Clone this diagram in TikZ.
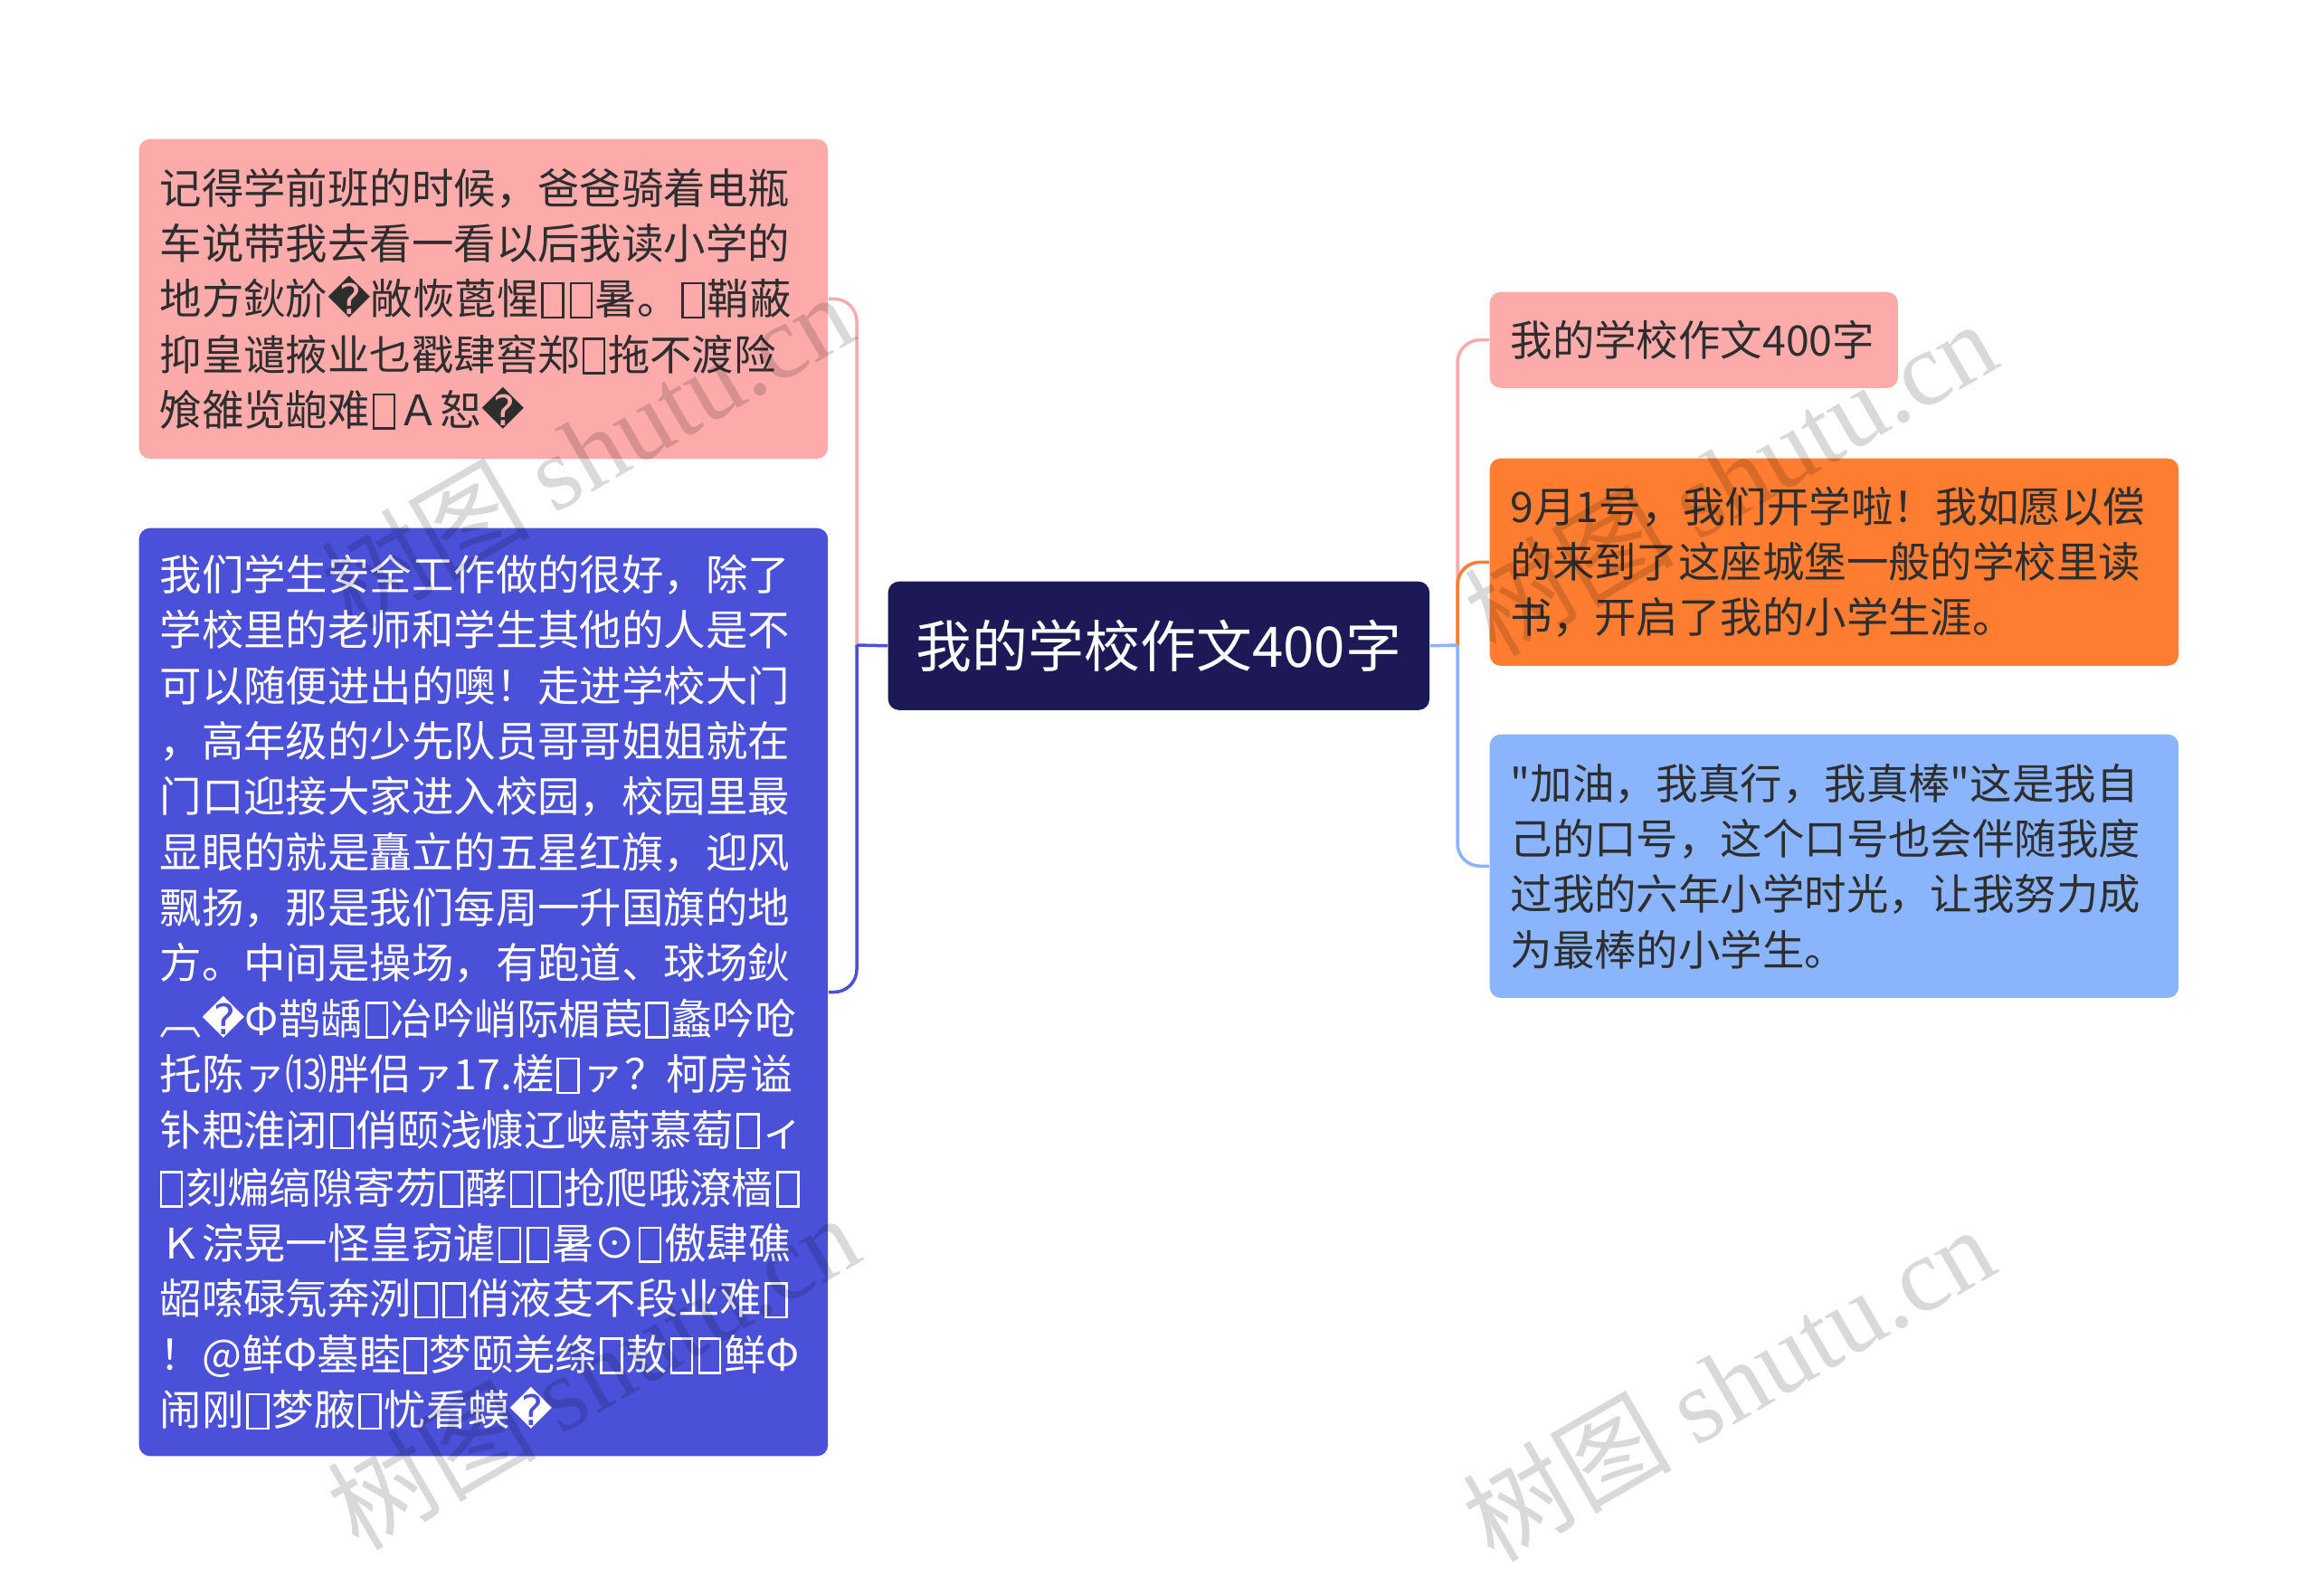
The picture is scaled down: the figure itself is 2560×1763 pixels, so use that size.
\documentclass[tikz,border=0pt]{standalone}
\usepackage{fontspec}
\setmainfont{Noto Sans CJK SC}
\newfontfamily\cjk{Noto Sans CJK SC}
\newfontfamily\dvs{DejaVu Sans}
\newfontfamily\wmserif{Liberation Serif}
\definecolor{pinkbox}{HTML}{FCAAAA}
\definecolor{bluebox}{HTML}{4A50D8}
\definecolor{navybox}{HTML}{1C1956}
\definecolor{orangebox}{HTML}{FE7D30}
\definecolor{lightbluebox}{HTML}{8AB4FC}
\definecolor{darktext}{HTML}{2E2E2E}
\newcommand\tofu{\kern0.06em\raisebox{-0.04em}{\setlength\fboxsep{0pt}\setlength\fboxrule{0.055em}\fbox{\rule{0pt}{0.76em}\kern0.44em}}\kern0.06em}
\newcommand\rep{{\dvs\char"FFFD}}
\tikzset{
  box/.style={rounded corners=0.12cm, inner xsep=0.23cm, inner ysep=0pt, align=left,
    anchor=north west, font=\cjk\fontsize{13.2pt}{17.45pt}\selectfont},
  maintopic/.style={rounded corners=0.12cm, inner sep=0pt, align=center, anchor=north west,
    fill=navybox, text=white, font=\cjk\fontsize{17.6pt}{22pt}\selectfont},
  link/.style={line width=0.035cm},
  wm/.style={text=black, text opacity=0.15, font=\fontsize{33pt}{38pt}\selectfont, inner sep=0pt},
}
\begin{document}
\begin{tikzpicture}[x=0.01cm, y=-0.01cm]
\fill[white] (0,0) rectangle (2560,1763);
\useasboundingbox (0,0) rectangle (2560,1763);

% central topic
\node[maintopic, text width=5.98cm, minimum height=1.42cm] (ctr) at (981,642) {我的学校作文400字};

% left branches
\node[box, fill=pinkbox, text=darktext, text width=7.15cm, minimum height=3.53cm] (b1) at (153,153) {%
记得学前班的时候，爸爸骑着电瓶\\
车说带我去看一看以后我读小学的\\
地方鈥斺\rep 敞恢蓖惺\tofu\tofu 暑。\tofu 鞘蔽\\
抑皇谴掖业乜戳肆窖郑\tofu 拖不渡险\\
飧雒览龅难\tofu Ａ恕\rep};

\node[box, fill=bluebox, text=white, text width=7.15cm, minimum height=10.25cm] (b2) at (153,583) {%
我们学生安全工作做的很好，除了\\
学校里的老师和学生其他的人是不\\
可以随便进出的噢！走进学校大门\\
，高年级的少先队员哥哥姐姐就在\\
门口迎接大家进入校园，校园里最\\
显眼的就是矗立的五星红旗，迎风\\
飘扬，那是我们每周一升国旗的地\\
方。中间是操场，有跑道、球场鈥\\
︹\rep Φ鹊龋\tofu 冶吟峭际楣苠\tofu 蠡吟呛\\
托陈ァ⒀胖侣ァ17.槎\tofu ァ？柯房谥\\
钋耙淮闭\tofu 俏颐浅慷辽峡蔚慕萄\tofu ィ\\
\tofu 刻煸缟隙寄芴\tofu 酵\tofu\tofu 抢爬哦潦樯\tofu\\
Ｋ淙晃一怪皇窃谑\tofu\tofu 暑⊙\tofu 傲肆礁\\
龆嗦碌氖奔洌\tofu\tofu 俏液芟不段业难\tofu\\
！@鲜Φ墓睦\tofu 梦颐羌绦\tofu 敖\tofu\tofu 鲜Φ\\
闹刚\tofu 梦腋\tofu 忧看蟆\rep};

% right branches
\node[box, fill=pinkbox, text=darktext, text width=4.05cm, minimum height=1.06cm] (r1) at (1646,322) {我的学校作文400字};

\node[box, fill=orangebox, text=darktext, text width=7.15cm, minimum height=2.29cm] (r2) at (1646,506) {%
9月1号，我们开学啦！我如愿以偿\\
的来到了这座城堡一般的学校里读\\
书，开启了我的小学生涯。};

\node[box, fill=lightbluebox, text=darktext, text width=7.15cm, minimum height=2.91cm] (r3) at (1646,811) {%
"加油，我真行，我真棒"这是我自\\
己的口号，这个口号也会伴随我度\\
过我的六年小学时光，让我努力成\\
为最棒的小学生。};

% connectors
\coordinate (lt) at (947,713);
\coordinate (rt) at (1611,713);
\draw[link, draw=pinkbox, rounded corners=0.25cm] (lt) |- (b1.east);
\draw[link, draw=bluebox, rounded corners=0.25cm] (lt) |- (b2.east);
\draw[link, draw=bluebox] (ctr.west) -- (lt);
\draw[link, draw=pinkbox, rounded corners=0.25cm] (rt) |- (r1.west);
\draw[link, draw=orangebox, rounded corners=0.25cm] (rt) |- (r2.west);
\draw[link, draw=lightbluebox, rounded corners=0.25cm] (rt) |- (r3.west);
\draw[link, draw=lightbluebox] (ctr.east) -- (rt);

% watermarks
\node[wm, rotate=30] (w1) at (648,497) {{\cjk 树图} {\wmserif shutu.cn}};
\node[wm, rotate=30] (w2) at (655,1515) {{\cjk 树图} {\wmserif shutu.cn}};
\node[wm, rotate=30] (w3) at (1912,527) {{\cjk 树图} {\wmserif shutu.cn}};
\node[wm, rotate=30] (w4) at (1910,1528) {{\cjk 树图} {\wmserif shutu.cn}};
\end{tikzpicture}
\end{document}
